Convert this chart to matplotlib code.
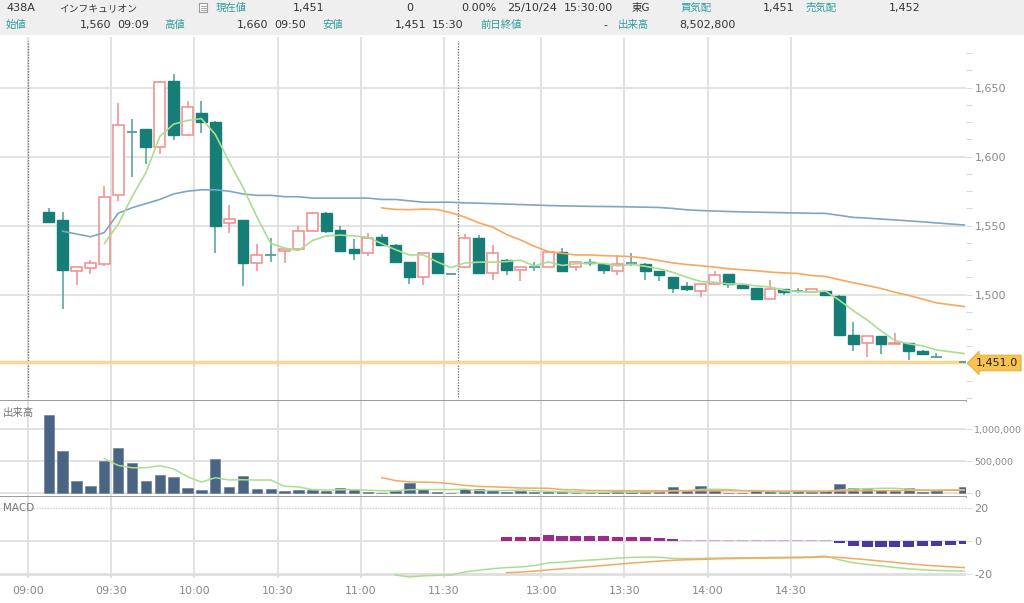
import matplotlib
matplotlib.use("Agg")
import matplotlib.pyplot as plt
from matplotlib.patches import Rectangle
from matplotlib.ticker import MultipleLocator, FixedLocator

plt.rcParams['font.family'] = ['DejaVu Sans', 'Noto Sans CJK JP']

# ---- 5-minute bars (morning 09:05-11:30, afternoon 12:30-15:30) ----
times = ["09:05", "09:10", "09:15", "09:20", "09:25", "09:30", "09:35", "09:40", "09:45", "09:50",
         "09:55", "10:00", "10:05", "10:10", "10:15", "10:20", "10:25", "10:30", "10:35", "10:40",
         "10:45", "10:50", "10:55", "11:00", "11:05", "11:10", "11:15", "11:20", "11:25", "11:30",
         "12:30", "12:35", "12:40", "12:45", "12:50", "12:55", "13:00", "13:05", "13:10", "13:15",
         "13:20", "13:25", "13:30", "13:35", "13:40", "13:45", "13:50", "13:55", "14:00", "14:05",
         "14:10", "14:15", "14:20", "14:25", "14:30", "14:35", "14:40", "14:45", "14:50", "14:55",
         "15:00", "15:05", "15:10", "15:15", "15:20", "15:30"]
opens = [1560, 1554, 1517, 1519, 1522, 1572, 1618, 1620, 1607, 1655, 1616, 1632, 1625, 1552, 1554,
         1523, 1529, 1532, 1533, 1546, 1559, 1547, 1533, 1530, 1542, 1536, 1524, 1513, 1530, 1515,
         1520, 1541, 1516, 1525, 1518, 1520, 1520, 1531, 1520, 1524, 1522, 1517, 1523, 1522, 1517,
         1513, 1506, 1503, 1508, 1515, 1507, 1505, 1497, 1504, 1503, 1502, 1503, 1499, 1471, 1465,
         1470, 1464, 1465, 1459, 1455, 1451]
highs = [1563, 1560, 1520, 1525, 1579, 1639, 1627, 1620, 1655, 1660, 1640, 1640, 1626, 1565, 1554,
         1537, 1541, 1534, 1550, 1560, 1560, 1550, 1540, 1545, 1544, 1537, 1524, 1530, 1530, 1515,
         1544, 1543, 1536, 1526, 1520, 1524, 1531, 1534, 1524, 1526, 1523, 1529, 1530, 1523, 1517,
         1513, 1509, 1508, 1517, 1515, 1507, 1505, 1511, 1504, 1505, 1504, 1503, 1500, 1480, 1470,
         1470, 1472, 1465, 1460, 1458, 1451]
lows = [1553, 1490, 1507, 1515, 1521, 1568, 1585, 1595, 1602, 1612, 1615, 1617, 1530, 1545, 1506,
        1517, 1524, 1523, 1532, 1546, 1545, 1532, 1525, 1528, 1535, 1523, 1508, 1507, 1515, 1515,
        1519, 1515, 1511, 1514, 1510, 1517, 1520, 1517, 1517, 1521, 1515, 1514, 1521, 1511, 1510,
        1501, 1503, 1498, 1508, 1505, 1504, 1497, 1497, 1500, 1501, 1502, 1500, 1470, 1459, 1455,
        1457, 1464, 1453, 1457, 1454, 1451]
closes = [1553, 1518, 1520, 1523, 1571, 1623, 1618, 1607, 1654, 1616, 1636, 1625, 1550, 1555, 1523,
          1529, 1529, 1533, 1546, 1559, 1546, 1532, 1530, 1541, 1536, 1524, 1513, 1530, 1516, 1515,
          1541, 1516, 1530, 1518, 1520, 1520, 1531, 1517, 1524, 1523, 1518, 1522, 1523, 1517, 1514,
          1505, 1504, 1508, 1514, 1508, 1505, 1497, 1504, 1502, 1503, 1504, 1500, 1471, 1464, 1470,
          1464, 1465, 1459, 1457, 1455, 1451]
volumes = [1225000, 657000, 194000, 116000, 505000, 704000, 473000, 194000, 279000, 252000,
           89000, 58000, 536000, 105000, 268000, 63000, 68000, 42000, 58000, 53000,
           32000, 84000, 53000, 16000, 11000, 32000, 168000, 63000, 16000, 5000,
           68000, 63000, 52000, 26000, 42000, 21000, 16000, 21000, 10000, 10000,
           21000, 42000, 16000, 26000, 26000, 100000, 31000, 116000, 37000, 10000,
           10000, 42000, 31000, 21000, 31000, 21000, 31000, 152000, 89000, 63000,
           52000, 37000, 79000, 26000, 42000, 95000]

# price overlays
ma_short = [1537.0, 1551.0, 1571.0, 1588.4, 1614.6, 1623.6, 1626.2, 1627.6, 1616.2, 1596.4,
            1577.8, 1556.4, 1537.2, 1533.8, 1532.0, 1539.2, 1542.6, 1543.2, 1542.6, 1541.6,
            1537.0, 1532.6, 1528.8, 1528.8, 1523.8, 1519.6,
            1523.0, 1523.6, 1523.6, 1524.0, 1525.0, 1520.8, 1523.8, 1521.2, 1522.4, 1523.0,
            1522.6, 1520.8, 1522.0, 1520.6, 1518.8, 1516.2, 1512.6, 1509.6, 1509.0, 1507.8,
            1507.8, 1506.4, 1505.6, 1503.2, 1502.2, 1502.0, 1502.6, 1496.0, 1488.4, 1481.8,
            1473.8, 1466.8, 1464.4, 1463.0, 1460.0, 1457.4]            # from 09:25
ma_long = [1562.9, 1561.8, 1561.6, 1562.0, 1561.7, 1559.4,
           1556.2, 1552.1, 1549.0, 1543.6, 1539.7, 1535.1, 1531.3, 1530.0, 1528.8, 1528.8,
           1528.3, 1528.0, 1527.6, 1526.5, 1524.7, 1523.0, 1521.9, 1521.0, 1520.0, 1518.8,
           1518.1, 1517.4, 1516.4, 1515.8, 1515.4, 1513.9, 1513.2, 1510.9, 1508.7, 1506.7,
           1504.5, 1501.8, 1499.5, 1496.8, 1494.1, 1491.4]             # from 11:05
vwap = [1546, 1544, 1542, 1545, 1559, 1563, 1566, 1569, 1573, 1575, 1576, 1576, 1575, 1573,
        1572, 1572, 1571, 1571, 1570, 1570, 1570, 1570, 1570, 1569, 1569, 1568, 1567, 1567, 1567,
        1566.5, 1566.3, 1566.0, 1565.7, 1565.3, 1565.0, 1564.6, 1564.4, 1564.2, 1564.0,
        1563.9, 1563.8, 1563.6, 1563.4, 1563.2, 1562.5, 1561.5, 1561.0, 1560.6, 1560.3,
        1560.0, 1559.8, 1559.6, 1559.4, 1559.2, 1559.0, 1558.9, 1557.5, 1556.0, 1555.5,
        1554.8, 1554.2, 1553.5, 1552.8, 1552.0, 1550.5]                # from 09:10

# volume overlays
vol_ma_short = [539400, 435200, 398400, 398400, 431000, 380400, 257400, 174400, 242800, 208000,
                211200, 206000, 208000, 109200, 99800, 56800, 50600, 53800, 56000, 47600,
                39200, 39200, 56000, 58000, 58000, 56800,
                64000, 43000, 40800, 42800, 50200, 40800, 31400, 25200, 22000, 15600,
                15600, 20800, 19800, 23000, 26200, 42000, 39800, 59800, 62000, 58800,
                40800, 43000, 26000, 22800, 27000, 29200, 27000, 51200, 64800, 71200,
                77400, 78600, 64000, 51400, 47200, 55800]
vol_ma_long = [245400, 197700, 178100, 172900, 168900, 148900,
               123400, 107000, 101400, 91200, 82800, 80100, 78400, 57800, 54000, 43700,
               42000, 41000, 40000, 38700, 37600, 40300, 38200, 40700, 41600, 41500,
               40600, 35600, 34300, 34500, 35600, 33700, 32400, 36400, 38900, 39800,
               41000, 41800, 44200, 44800, 46100, 49000]

# MACD (11:10 onwards; includes the empty 15:25 slot)
macd_times = ["11:10", "11:15", "11:20", "11:25", "11:30",
              "12:30", "12:35", "12:40", "12:45", "12:50", "12:55", "13:00", "13:05", "13:10",
              "13:15", "13:20", "13:25", "13:30", "13:35", "13:40", "13:45", "13:50", "13:55",
              "14:00", "14:05", "14:10", "14:15", "14:20", "14:25", "14:30", "14:35", "14:40",
              "14:45", "14:50", "14:55", "15:00", "15:05", "15:10", "15:15", "15:20", "15:25",
              "15:30"]
macd_line = [-20.3, -21.5, -20.8, -20.5, -20.3,
             -18.5, -17.5, -16.5, -15.9, -15.5, -14.7, -13.1, -12.6, -11.9, -11.4, -10.9,
             -10.2, -9.8, -9.6, -9.7, -10.4, -10.5, -10.4, -10.2, -10.1, -10.0, -10.0, -9.8,
             -9.7, -9.6, -9.5, -9.0, -11.2, -13.0, -14.0, -14.9, -15.8, -16.6, -17.2, -17.6,
             -17.8, -18.0]
signal_line = [-18.9, -18.6, -18.0, -17.3, -16.6, -16.0, -15.3, -14.6, -13.9, -13.2, -12.6,
               -12.0, -11.5, -11.2, -11.0, -10.7, -10.5, -10.4, -10.3, -10.2, -10.1, -10.0,
               -9.8, -9.5, -9.8, -10.5, -11.2, -12.0, -12.8, -13.6, -14.3, -14.9, -15.4, -15.9]
macd_hist = [2.6, 2.6, 2.6, 3.6, 3.0, 3.0, 3.0, 2.8, 2.6, 2.6, 2.2, 1.8, 1.0, 0.6, 0.6, 0.8,
             0.8, 0.6, 0.4, 0.4, 0.6, 0.6, 0.6, 0.6, -1.4, -2.8, -3.4, -3.4, -3.4, -3.4,
             -3.0, -3.0, -2.4, -2.0]                                    # from 12:45

tick_labels = ["09:00", "09:30", "10:00", "10:30", "11:00", "11:30", "13:00", "13:30", "14:00", "14:30"]


def to_slot(t, centre=True):
    h, m = map(int, t.split(":"))
    mins = h * 60 + m
    off = 0.5 if centre else 0.0
    if mins <= 690:
        return (mins - 540) / 5 + off
    return 31 + (mins - 750) / 5 + off


xs = [to_slot(t) for t in times]
mxs = [to_slot(t) for t in macd_times]

UP = "#f28a8a"
DOWN = "#177d77"
GREEN = "#a8df8e"
ORANGE = "#f6a760"
BLUE = "#7ea6c2"
GRID = "#dedede"
LBL = "#888888"

W, H = 1024, 603
fig = plt.figure(figsize=(W / 100, H / 100), dpi=100)


def fy(py):
    return 1 - py / H


right = 966 / W
ax_p = fig.add_axes([0, fy(401), right, (401 - 37) / H])
ax_v = fig.add_axes([0, fy(497), right, (497 - 401) / H])
ax_m = fig.add_axes([0, fy(578), right, (578 - 497) / H])

xlim = (-2.02, 67.63)
grid_x = [to_slot(t, centre=False) for t in tick_labels]

for ax in (ax_p, ax_v, ax_m):
    ax.set_xlim(*xlim)
    for s in ax.spines.values():
        s.set_visible(False)
    for g in grid_x:
        ax.axvline(g, color=GRID, lw=1.3, zorder=0)
    ax.yaxis.tick_right()
    ax.tick_params(axis="y", which="major", length=4, color=GRID, pad=2,
                   labelsize=8, labelcolor=LBL)
    ax.tick_params(axis="y", which="minor", length=4, color="#d0d0d0")
    ax.tick_params(axis="x", length=0)
    ax.set_xticks([])

# ---------------- price panel ----------------
ax_p.set_ylim(1423, 1686.7)
ax_p.spines["bottom"].set_visible(True)
ax_p.spines["bottom"].set_color("#8a8a8a")
ax_p.spines["bottom"].set_linewidth(1.2)
price_ticks = [1500, 1550, 1600, 1650]
ax_p.yaxis.set_major_locator(FixedLocator(price_ticks))
ax_p.set_yticklabels([f"{v:,}" for v in price_ticks])
ax_p.yaxis.set_minor_locator(MultipleLocator(12.5))
for v in price_ticks:
    ax_p.axhline(v, color=GRID, lw=1.2, zorder=0)

ax_p.axvline(0, ymin=0.01, ymax=0.99, color="#777777", lw=1, ls=(0, (1, 1)), zorder=1)
ax_p.axvline(31, ymin=0.01, ymax=0.99, color="#777777", lw=1, ls=(0, (1, 1)), zorder=1)

ax_p.axhline(closes[-1], color="#f8d890", lw=2.5, zorder=1)

bw = 0.78
for x, o, h, l, c in zip(xs, opens, highs, lows, closes):
    if c > o:
        col = UP
        ax_p.vlines(x, l, h, color=col, lw=1.1, zorder=2)
        ax_p.add_patch(Rectangle((x - bw / 2, o), bw, c - o, facecolor="white",
                                 edgecolor=col, lw=1.1, zorder=3))
    elif c < o:
        col = DOWN
        ax_p.vlines(x, l, h, color="#4f9f99", lw=1.1, zorder=2)
        ax_p.add_patch(Rectangle((x - bw / 2, c), bw, o - c, facecolor=col,
                                 edgecolor=col, lw=1.0, zorder=3))
    else:
        ax_p.vlines(x, l, h, color="#4f9f99", lw=1.1, zorder=2)
        ax_p.hlines(c, x - bw / 2, x + bw / 2, color="#4f9f99", lw=1.3, zorder=3)

ax_p.plot(xs[1:], vwap, color=BLUE, lw=1.2, zorder=4)
ax_p.plot(xs[24:], ma_long, color=ORANGE, lw=1.2, zorder=4)
ax_p.plot(xs[4:], ma_short, color=GREEN, lw=1.2, zorder=4)

fig.text(976 / W, fy(363), f"{closes[-1]:,}.0", fontsize=8, color="#222222",
         ha="left", va="center",
         bbox=dict(boxstyle="larrow,pad=0.25", fc="#f8c24e", ec="#e8b040", lw=0.8))

# ---------------- volume panel ----------------
ax_v.set_ylim(-58000, 1440000)
ax_v.spines["bottom"].set_visible(True)
ax_v.spines["bottom"].set_color("#8a8a8a")
ax_v.spines["bottom"].set_linewidth(1.2)
vol_ticks = [0, 500000, 1000000]
ax_v.yaxis.set_major_locator(FixedLocator(vol_ticks))
ax_v.set_yticklabels([f"{v:,}" for v in vol_ticks])
ax_v.tick_params(axis="y", which="major", labelsize=6.8)
for v in vol_ticks:
    ax_v.axhline(v, color=GRID, lw=1.3, zorder=0)
ax_v.bar(xs, volumes, width=0.75, color="#4b6484", edgecolor="#6d829c", lw=0.5, zorder=2)
ax_v.plot(xs[4:], vol_ma_short, color=GREEN, lw=1.1, zorder=3)
ax_v.plot(xs[24:], vol_ma_long, color=ORANGE, lw=1.1, zorder=3)
ax_v.text(0.003, 0.88, "出来高", transform=ax_v.transAxes, fontsize=7.5, color="#777777",
          ha="left", va="center")

# ---------------- MACD panel ----------------
ax_m.set_ylim(-22.1, 26.3)
macd_ticks = [-20, 0, 20]
ax_m.yaxis.set_major_locator(FixedLocator(macd_ticks))
ax_m.set_yticklabels([str(v) for v in macd_ticks])
ax_m.axhline(20, color="#cfcfcf", lw=1, ls=(0, (1, 1)), zorder=0)
ax_m.axhline(0, color=GRID, lw=1.3, zorder=0)
ax_m.axhline(-20, color=GRID, lw=2, zorder=0)
hist_x = mxs[len(mxs) - len(macd_hist):]
hist_cols = ["#9e2a8c" if v >= 1 else ("#d9a6d3" if v > 0 else "#4a37a6") for v in macd_hist]
ax_m.bar(hist_x, macd_hist, width=0.8, color=hist_cols, zorder=2)
ax_m.plot(mxs, macd_line, color=GREEN, lw=1.1, zorder=3)
ax_m.plot(mxs[len(mxs) - len(signal_line):], signal_line, color=ORANGE, lw=1.1, zorder=3)
ax_m.text(0.003, 0.87, "MACD", transform=ax_m.transAxes, fontsize=7.5, color="#777777",
          ha="left", va="center")
ax_m.set_xticks(grid_x)
ax_m.set_xticklabels(tick_labels)
ax_m.tick_params(axis="x", length=0, pad=6, labelsize=8, labelcolor=LBL)

# ---------------- header ----------------
fig.patches.append(Rectangle((0, fy(35)), 1, 35 / H, transform=fig.transFigure,
                             facecolor="#efefef", edgecolor="none", zorder=0))
fig.patches.append(Rectangle((199 / W, fy(12)), 8 / W, 9 / H, transform=fig.transFigure,
                             facecolor="white", edgecolor="#9a9a9a", lw=0.8))
for yy in (5.5, 7.5, 9.5):
    fig.lines.append(plt.Line2D([200.5 / W, 205.5 / W], [fy(yy), fy(yy)],
                                transform=fig.transFigure, color="#9a9a9a", lw=0.6))

TEAL = "#2f9e99"
VAL = "#333333"
r1, r2 = fy(8), fy(25)
header = [
    (6, r1, "438A", VAL, "left", 8),
    (59, r1, "インフキュリオン", VAL, "left", 7),
    (216, r1, "現在値", TEAL, "left", 7.5),
    (324, r1, "1,451", VAL, "right", 8),
    (413, r1, "0", VAL, "right", 8),
    (496, r1, "0.00%", VAL, "right", 8),
    (507, r1, "25/10/24", VAL, "left", 8),
    (564, r1, "15:30:00", VAL, "left", 8),
    (632, r1, "東G", VAL, "left", 7.5),
    (680, r1, "買気配", TEAL, "left", 7.5),
    (794, r1, "1,451", VAL, "right", 8),
    (806, r1, "売気配", TEAL, "left", 7.5),
    (921, r1, "1,452", VAL, "right", 8),
    (6, r2, "始値", TEAL, "left", 7.5),
    (111, r2, "1,560", VAL, "right", 8),
    (117, r2, "09:09", VAL, "left", 8),
    (164, r2, "高値", TEAL, "left", 7.5),
    (268, r2, "1,660", VAL, "right", 8),
    (274, r2, "09:50", VAL, "left", 8),
    (322, r2, "安値", TEAL, "left", 7.5),
    (426, r2, "1,451", VAL, "right", 8),
    (432, r2, "15:30", VAL, "left", 8),
    (480, r2, "前日終値", TEAL, "left", 7.5),
    (607, r2, "-", VAL, "right", 8),
    (618, r2, "出来高", TEAL, "left", 7.5),
    (679, r2, "8,502,800", VAL, "left", 8),
]
for px, yy, s, col, ha, fs in header:
    fig.text(px / W, yy, s, color=col, ha=ha, va="center", fontsize=fs)

fig.savefig("out.png", dpi=100)
